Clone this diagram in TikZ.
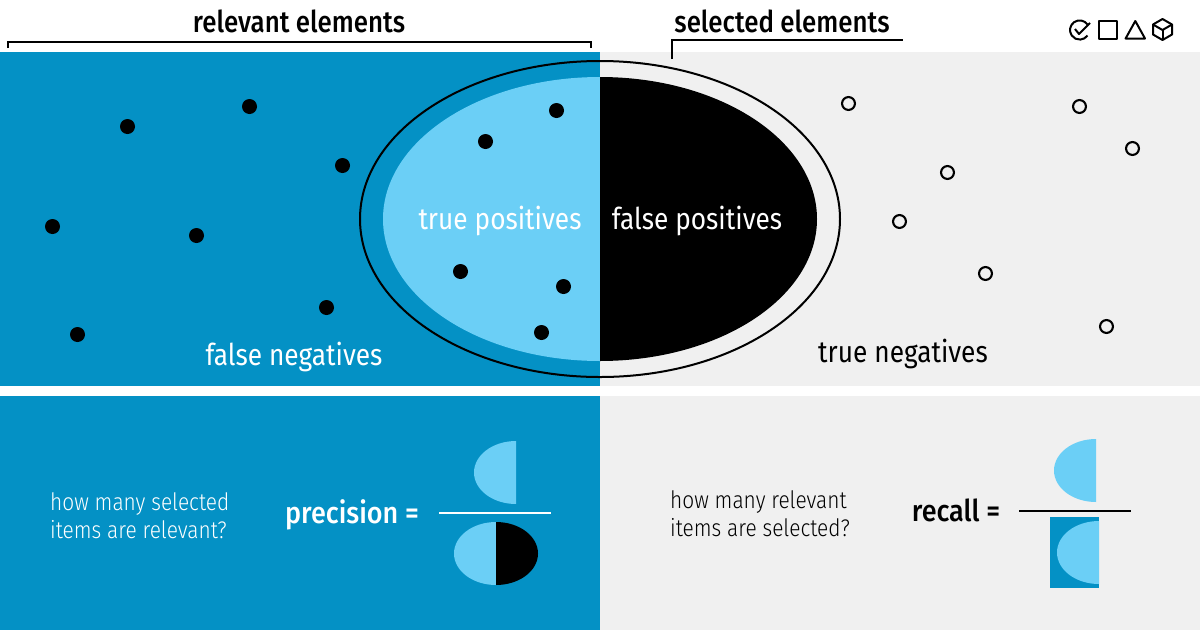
\documentclass[tikz,border=0pt]{standalone}
\usepackage{xcolor}
\usepackage{fontspec}
\setmainfont[FakeStretch=0.875]{Fira Sans}
\newfontfamily\lightfont[FakeStretch=0.87]{Fira Sans Light}
\newfontfamily\headfont[FakeStretch=0.862]{Fira Sans Medium}
\newfontfamily\ratiofont[FakeStretch=0.9]{Fira Sans Medium}
\usetikzlibrary{positioning}
\definecolor{panelblue}{RGB}{4,145,197}
\definecolor{panelgray}{RGB}{240,240,240}
\definecolor{halfblue}{RGB}{107,207,246}
\begin{document}
\begin{tikzpicture}[
        x=1pt,
        y=-1pt,
        inner sep=0pt,
        fulldot/.style={circle, fill=black, minimum size=15pt},
        opendot/.style={circle, draw=black, line width=2.1pt, minimum size=12.9pt},
        head/.style={font=\fontsize{30}{32}\selectfont\headfont, text=black},
        area/.style={font=\fontsize{30}{32}\selectfont},
        question/.style={font=\fontsize{24}{28}\selectfont\lightfont, align=left, anchor=west},
        ratio/.style={font=\fontsize{30}{32}\selectfont\ratiofont, anchor=base},
        rule/.style={line width=2pt},
        bracket/.style={line width=1.5pt},
        icon/.style={line width=2pt, line join=round}
    ]
    \useasboundingbox (0,0) rectangle (1200,630);
    \fill[white] (0,0) rectangle (1200,630);
    \fill[panelblue] (0,52) rectangle (600,386);
    \fill[panelgray] (600,52) rectangle (1200,386);
    \fill[panelblue] (0,396) rectangle (600,630);
    \fill[panelgray] (600,396) rectangle (1200,630);

    \fill[halfblue] (600,77) arc[start angle=-90, end angle=-270, x radius=217, y radius=142] -- cycle;
    \fill[black] (600,77) arc[start angle=-90, end angle=90, x radius=217, y radius=142] -- cycle;
    \draw[line width=2pt] (600,219) ellipse[x radius=240, y radius=158];

    \foreach \x/\y [count=\i] in {127.5/126.5, 249.5/106.5, 342.5/165.5, 52.5/226.5, 196.5/235.5, 326.5/307.5, 77.5/334.5, 485.5/141.5, 556.5/110.5, 460.5/271.5, 563.5/286.5, 541.5/332.5}
        \node[fulldot] (full\i) at (\x,\y) {};
    \foreach \x/\y [count=\i] in {848.5/103.5, 1079.5/106.5, 1132.5/148.5, 947.5/172.5, 899.5/221.5, 985.5/273.5, 1106.5/326.5}
        \node[opendot] (open\i) at (\x,\y) {};

    \node[head] (relevant) at (299,21) {relevant elements};
    \node[head] (selected) at (782,21) {selected elements};
    \coordinate (relA) at (8,48);
    \coordinate (relB) at (8,42);
    \coordinate (relC) at (591,42);
    \coordinate (relD) at (591,48);
    \coordinate (selA) at (672,59);
    \coordinate (selB) at (672,40);
    \coordinate (selC) at (903,40);
    \draw[bracket] (relA) -- (relB) -- (relC) -- (relD);
    \draw[bracket] (selA) -- (selB) -- (selC);

    \node[area, text=white] (fneg) at (294,357) {false negatives};
    \node[area, text=white] (tpos) at (500,221) {true positives};
    \node[area, text=white] (fpos) at (697,221) {false positives};
    \node[area, text=black] (tneg) at (903,354) {true negatives};

    \node[question, text=white] (askprec) at (50,516) {how many selected\\items are relevant?};
    \node[question, text=black] (askrec) at (670,514) {how many relevant\\items are selected?};
    \node[ratio, text=white] (precision) at (352,523.5) {precision =};
    \node[ratio, text=black] (recall) at (956,521.5) {recall =};

    \fill[halfblue] (516,441) arc[start angle=-90, end angle=-270, x radius=42, y radius=31.5] -- cycle;
    \draw[rule, white] (439,513) -- (551,513);
    \fill[halfblue] (496,522) arc[start angle=-90, end angle=-270, x radius=42, y radius=31.5] -- cycle;
    \fill[black] (496,522) arc[start angle=-90, end angle=90, x radius=42, y radius=31.5] -- cycle;

    \fill[halfblue] (1096,439) arc[start angle=-90, end angle=-270, x radius=42, y radius=31.5] -- cycle;
    \draw[rule, black] (1019,511) -- (1131,511);
    \fill[panelblue] (1050,517) rectangle (1099,588);
    \fill[halfblue] (1099,521) arc[start angle=-90, end angle=-270, x radius=42, y radius=31.5] -- cycle;

    \draw[icon] (1087.5,24.5) arc[start angle=-35, end angle=-325, radius=9.6];
    \draw[icon] (1075,29) -- (1079,34) -- (1090,23);
    \draw[icon] (1099,21) rectangle (1117,38.5);
    \draw[icon] (1135.3,21) -- (1145,38.5) -- (1125.6,38.5) -- cycle;
    \draw[icon] (1162.5,19) -- (1172,24.5) -- (1172,34.5) -- (1162.5,40) -- (1153,34.5) -- (1153,24.5) -- cycle;
    \draw[icon] (1153,24.5) -- (1162.5,30) -- (1172,24.5);
    \draw[icon] (1162.5,30) -- (1162.5,40);
\end{tikzpicture}
\end{document}
